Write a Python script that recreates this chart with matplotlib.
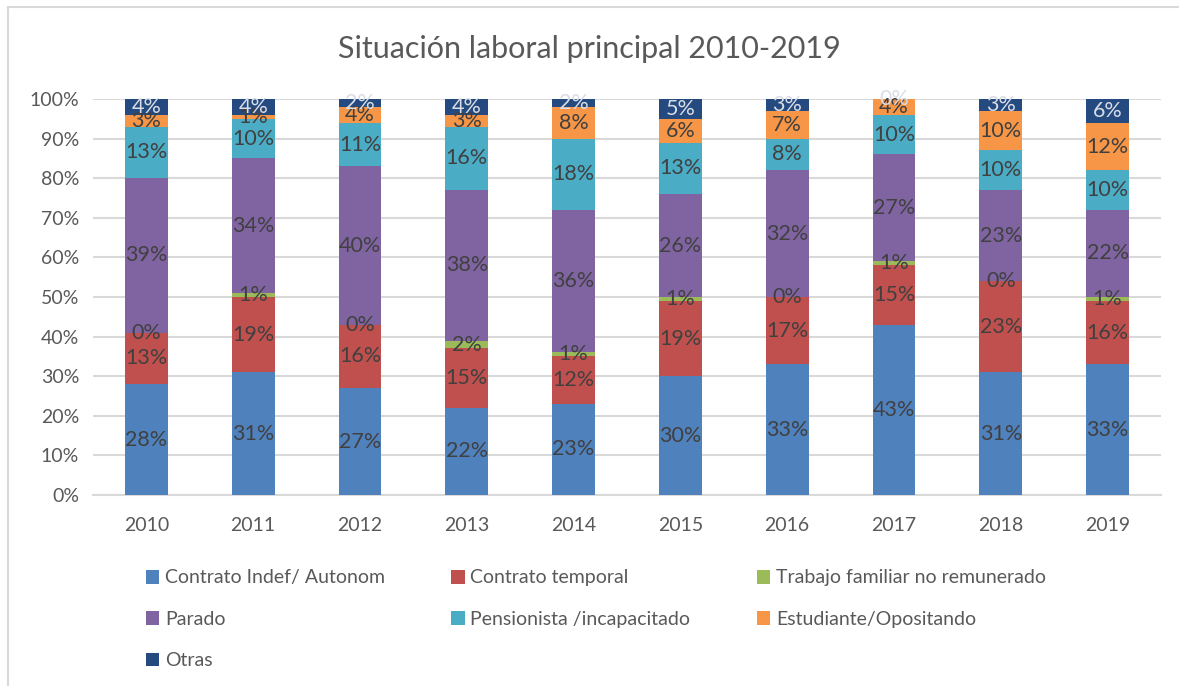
import matplotlib
matplotlib.use("Agg")
import matplotlib.pyplot as plt
from matplotlib.patches import Rectangle, Patch
import numpy as np

plt.rcParams['font.family'] = ['Lato', 'DejaVu Sans']

years = ['2010', '2011', '2012', '2013', '2014', '2015', '2016', '2017', '2018', '2019']
series_names = ['Contrato Indef/ Autonom', 'Contrato temporal', 'Trabajo familiar no remunerado',
                'Parado', 'Pensionista /incapacitado', 'Estudiante/Opositando', 'Otras']
indef      = [28, 31, 27, 22, 23, 30, 33, 43, 31, 33]
temporal   = [13, 19, 16, 15, 12, 19, 17, 15, 23, 16]
familiar   = [0, 1, 0, 2, 1, 1, 0, 1, 0, 1]
parado     = [39, 34, 40, 38, 36, 26, 32, 27, 23, 22]
pension    = [13, 10, 11, 16, 18, 13, 8, 10, 10, 10]
estudiante = [3, 1, 4, 3, 8, 6, 7, 4, 10, 12]
otras      = [4, 4, 2, 4, 2, 5, 3, 0, 3, 6]
yticks = ['0%', '10%', '20%', '30%', '40%', '50%', '60%', '70%', '80%', '90%', '100%']

colors = ['#4F81BD', '#C0504D', '#9BBB59', '#8064A2', '#4BACC6', '#F79646', '#254A80']
label_colors = ['#404040'] * 6 + ['#D9DDE6']

data = [indef, temporal, familiar, parado, pension, estudiante, otras]

fig = plt.figure(figsize=(11.79, 6.86), dpi=100)
W, H = 1179, 686
ax = fig.add_axes([93 / W, 1 - 495 / H, (1161 - 93) / W, (495 - 99) / H])

x = np.arange(len(years))
bottom = np.zeros(len(years))
handles = []
for vals, c, lc, name in zip(data, colors, label_colors, series_names):
    v = np.array(vals, dtype=float) / 100.0
    ax.bar(x, v, width=0.4, bottom=bottom, color=c, edgecolor='none', zorder=3)
    for xi, b, vi, raw in zip(x, bottom, v, vals):
        ax.text(xi, b + vi / 2, f'{raw}%', ha='center', va='center', fontsize=15.5,
                color=lc, zorder=5)
    bottom += v
    handles.append(Patch(facecolor=c, edgecolor='none', label=name))

ax.set_xlim(-0.5, len(years) - 0.5)
ax.set_ylim(0, 1)
ax.set_yticks(np.linspace(0, 1, 11))
ax.set_yticklabels(yticks)
ax.set_xticks(x)
ax.set_xticklabels(years)
ax.tick_params(axis='both', length=0, labelsize=14, colors='#595959')
ax.tick_params(axis='x', pad=16)
ax.tick_params(axis='y', pad=10)
ax.yaxis.grid(True, color='#D9D9D9', linewidth=1.5, zorder=0)
ax.set_axisbelow(True)
for s in ['top', 'right', 'left']:
    ax.spines[s].set_visible(False)
ax.spines['bottom'].set_color('#D9D9D9')
ax.spines['bottom'].set_linewidth(1.5)

fig.text(0.5, 1 - 49 / H, 'Situación laboral principal 2010-2019', ha='center', va='center',
         fontsize=22, color='#595959')

order = [0, 3, 6, 1, 4, 2, 5]
leg = fig.legend([handles[i] for i in order], [series_names[i] for i in order],
                 ncol=3, loc='upper left', bbox_to_anchor=(128 / W, 1 - 552 / H),
                 frameon=False, fontsize=14, labelcolor='#595959',
                 handlelength=0.7, handleheight=0.7, handletextpad=0.3,
                 columnspacing=3.4, labelspacing=1.25)

fig.add_artist(Rectangle((8 / W, -0.05), 1.1, 1 - 7 / H + 0.05, transform=fig.transFigure,
                         fill=False, edgecolor='#D9D9D9', linewidth=1.5))

fig.savefig('out.png', dpi=100)
